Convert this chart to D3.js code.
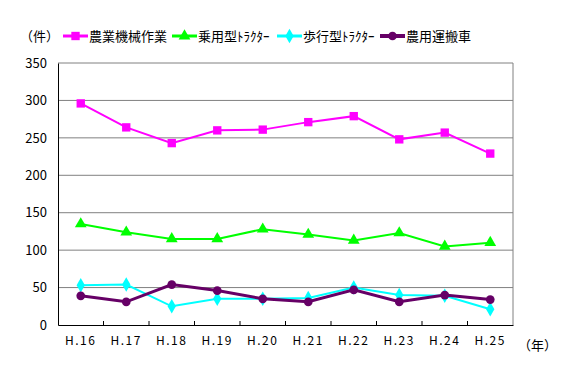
<!DOCTYPE html>
<html>
<head>
<meta charset="utf-8">
<script src="https://cdn.jsdelivr.net/npm/d3@7"></script>
<style>
  body { margin: 0; background: #fff; }
  svg { overflow: visible; }
  text { font-family: "Noto Sans CJK JP", sans-serif; fill: #000; }
</style>
</head>
<body>
<svg width="569" height="374"></svg>
<script>
const years = ["H.16", "H.17", "H.18", "H.19", "H.20", "H.21", "H.22", "H.23", "H.24", "H.25"];
const nouki = [296, 264, 243, 260, 261, 271, 279, 248, 257, 229];
const joyo = [135, 124, 115, 115, 128, 121, 113, 123, 105, 110];
const hoko = [53, 54, 25, 35, 35, 36, 50, 40, 39, 21];
const unpan = [39, 31, 54, 46, 35, 31, 47, 31, 40, 34];
const yTicks = [0, 50, 100, 150, 200, 250, 300, 350];

const series = [
  { name: "農業機械作業", values: nouki, color: "#ff00ff", width: 2, symbol: d3.symbolSquare, size: 70 },
  { name: "乗用型ﾄﾗｸﾀｰ", values: joyo, color: "#00ff00", width: 2, symbol: d3.symbolTriangle, size: 60 },
  { name: "歩行型ﾄﾗｸﾀｰ", values: hoko, color: "#00ffff", width: 2, symbol: d3.symbolDiamond, size: 60 },
  { name: "農用運搬車", values: unpan, color: "#660066", width: 3, symbol: d3.symbolCircle, size: 60 }
];

const svg = d3.select("svg");
const margin = { top: 63, left: 58, right: 56, bottom: 49 };
const width = +svg.attr("width");
const height = +svg.attr("height");
const innerWidth = width - margin.left - margin.right;
const innerHeight = height - margin.top - margin.bottom;

const xScale = d3.scaleBand().domain(years).range([0, innerWidth]);
const yScale = d3.scaleLinear().domain([0, 350]).range([innerHeight, 0]);

const g = svg.append("g").attr("transform", `translate(${margin.left},${margin.top})`);

// gridlines
g.selectAll(".grid")
  .data(yTicks.filter(d => d > 0))
  .join("line")
  .attr("x1", 0).attr("x2", innerWidth)
  .attr("y1", d => yScale(d)).attr("y2", d => yScale(d))
  .attr("stroke", "#808080").attr("stroke-width", 1);

// right border
g.append("line")
  .attr("x1", innerWidth).attr("x2", innerWidth)
  .attr("y1", 0).attr("y2", innerHeight)
  .attr("stroke", "#808080");

// y axis
const yAxis = g.append("g")
  .call(d3.axisLeft(yScale).tickValues(yTicks).tickSize(0).tickPadding(11));
yAxis.select(".domain").attr("stroke", "#000");
yAxis.selectAll("text").attr("font-size", 13).style("font-family", "'Noto Sans CJK JP', sans-serif");

// x axis
const xAxis = g.append("g")
  .attr("transform", `translate(0,${innerHeight})`)
  .call(d3.axisBottom(xScale).tickSize(0).tickPadding(11));
xAxis.select(".domain").attr("stroke", "#000");
xAxis.selectAll("text").attr("font-size", 12)
  .style("font-family", "'Noto Sans CJK JP', sans-serif")
  .style("letter-spacing", "1.5px");

// tick marks between categories (inside)
g.selectAll(".xtick")
  .data(years.slice(1))
  .join("line")
  .attr("x1", d => xScale(d)).attr("x2", d => xScale(d))
  .attr("y1", innerHeight).attr("y2", innerHeight - 4)
  .attr("stroke", "#000");

const line = d3.line()
  .x((d, i) => xScale(years[i]) + xScale.bandwidth() / 2)
  .y(d => yScale(d));

series.forEach(s => {
  g.append("path")
    .datum(s.values)
    .attr("d", line)
    .attr("fill", "none")
    .attr("stroke", s.color)
    .attr("stroke-width", s.width);
  g.selectAll(null)
    .data(s.values)
    .join("path")
    .attr("transform", (d, i) => `translate(${xScale(years[i]) + xScale.bandwidth() / 2},${yScale(d)})`)
    .attr("d", d3.symbol().type(s.symbol).size(s.size))
    .attr("fill", s.color);
});

// unit labels
svg.append("text").attr("x", 20).attr("y", 41).attr("font-size", 13).text("（件）");
svg.append("text").attr("x", 518).attr("y", 350).attr("font-size", 13).text("（年）");

// legend
const legendX = [63, 172, 277, 380];
const legend = svg.append("g");
series.forEach((s, i) => {
  const lg = legend.append("g").attr("transform", `translate(${legendX[i]},36)`);
  lg.append("line").attr("x1", 0).attr("x2", 25).attr("stroke", s.color).attr("stroke-width", s.width + 1);
  lg.append("path").attr("transform", "translate(12.5,0)")
    .attr("d", d3.symbol().type(s.symbol).size(s.size)).attr("fill", s.color);
  lg.append("text").attr("x", 26).attr("y", 5).attr("font-size", 13).text(s.name);
});
</script>
</body>
</html>
